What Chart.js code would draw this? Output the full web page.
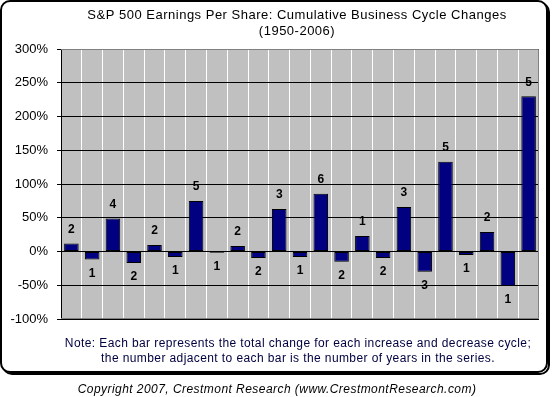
<!DOCTYPE html>
<html>
<head>
<meta charset="utf-8">
<script src="https://cdn.jsdelivr.net/npm/chart.js@4"></script>
<style>
  html, body { margin: 0; padding: 0; background: #fff; }
  #wrap { position: relative; width: 554px; height: 397px; }
</style>
</head>
<body>
<div id="wrap"><canvas id="epsChart" width="554" height="397"></canvas></div>
<script>
  // cycle-by-cycle cumulative EPS change, %
  const cycles = ['1', '2', '3', '4', '5', '6', '7', '8', '9', '10', '11', '12',
    '13', '14', '15', '16', '17', '18', '19', '20', '21', '22', '23'];
  const changes = [12, -12, 49, -17, 9.5, -8, 75, -2, 8, -9.5, 63, -8,
    85.5, -15, 23, -9.5, 66, -30, 133, -5, 29, -51, 230];
  // number of years in each cycle
  const years = [2, 1, 4, 2, 2, 1, 5, 1, 2, 2, 3, 1, 6, 2, 1, 2, 3, 3, 5, 1, 2, 1, 5];
  const yTicks = [-100, -50, 0, 50, 100, 150, 200, 250, 300];

  const titleLines = ['S&P 500 Earnings Per Share: Cumulative Business Cycle Changes', '(1950-2006)'];
  const noteLines = ['Note: Each bar represents the total change for each increase and decrease cycle;',
    'the number adjacent to each bar is the number of years in the series.'];
  const copyright = 'Copyright 2007, Crestmont Research (www.CrestmontResearch.com)';

  function roundRect(ctx, x, y, w, h, r) {
    ctx.beginPath();
    ctx.moveTo(x + r, y);
    ctx.arcTo(x + w, y, x + w, y + h, r);
    ctx.arcTo(x + w, y + h, x, y + h, r);
    ctx.arcTo(x, y + h, x, y, r);
    ctx.arcTo(x, y, x + w, y, r);
    ctx.closePath();
  }

  const frame = {
    id: 'frame',
    beforeDraw(chart) {
      const ctx = chart.ctx, a = chart.chartArea;
      ctx.save();
      ctx.fillStyle = '#fff';
      ctx.fillRect(0, 0, chart.width, chart.height);
      // shadow + border
      ctx.lineWidth = 2;
      ctx.strokeStyle = '#000';
      roundRect(ctx, 3, 3, 546, 371, 9);
      ctx.stroke();
      roundRect(ctx, 1, 1, 546, 371, 9);
      ctx.fillStyle = '#fff';
      ctx.fill();
      ctx.stroke();
      // plot area
      ctx.fillStyle = '#c0c0c0';
      ctx.fillRect(a.left, a.top, a.right - a.left, a.bottom - a.top);
      // texts
      ctx.fillStyle = '#000';
      ctx.textAlign = 'center';
      ctx.textBaseline = 'middle';
      ctx.font = '13px Arial, "Liberation Sans", sans-serif';
      ctx.letterSpacing = '0.5px';
      ctx.fillText(titleLines[0], 297, 15);
      ctx.fillText(titleLines[1], 297, 31);
      ctx.fillStyle = '#000040';
      ctx.font = '12px Arial, "Liberation Sans", sans-serif';
      ctx.letterSpacing = '0.4px';
      ctx.fillText(noteLines[0], 298, 344);
      ctx.fillText(noteLines[1], 298, 359);
      ctx.fillStyle = '#000';
      ctx.font = 'italic 12px Arial, "Liberation Sans", sans-serif';
      ctx.letterSpacing = '0.45px';
      ctx.fillText(copyright, 277, 390);
      ctx.letterSpacing = '0px';
      ctx.restore();
    },
    afterDraw(chart) {
      const ctx = chart.ctx, a = chart.chartArea;
      ctx.save();
      ctx.strokeStyle = '#808080';
      ctx.lineWidth = 1;
      ctx.beginPath();
      ctx.moveTo(a.left, a.top + 0.5);
      ctx.lineTo(a.right - 0.5, a.top + 0.5);
      ctx.lineTo(a.right - 0.5, a.bottom - 0.5);
      ctx.lineTo(a.left, a.bottom - 0.5);
      ctx.stroke();
      ctx.restore();
    }
  };

  const yearLabels = {
    id: 'yearLabels',
    afterDatasetsDraw(chart) {
      const ctx = chart.ctx;
      const meta = chart.getDatasetMeta(0);
      ctx.save();
      ctx.fillStyle = '#000';
      ctx.font = 'bold 12px Arial, "Liberation Sans", sans-serif';
      ctx.textAlign = 'center';
      ctx.textBaseline = 'middle';
      meta.data.forEach((bar, i) => {
        const off = changes[i] >= 0 ? -14 : 14;
        ctx.fillText(String(years[i]), bar.x, bar.y + off);
      });
      ctx.restore();
    }
  };

  new Chart(document.getElementById('epsChart'), {
    type: 'bar',
    data: {
      labels: cycles,
      datasets: [{
        data: changes,
        backgroundColor: '#000080',
        borderColor: '#000000',
        borderWidth: 1,
        borderSkipped: false,
        categoryPercentage: 1,
        barPercentage: 0.7
      }]
    },
    options: {
      responsive: false,
      animation: false,
      layout: { padding: { top: 49, bottom: 78, left: 0, right: 15 } },
      plugins: { legend: { display: false }, title: { display: false }, tooltip: { enabled: false } },
      scales: {
        x: {
          offset: true,
          ticks: { display: false },
          grid: { color: '#ffffff', lineWidth: 1, drawTicks: false, offset: true },
          border: { display: false },
          afterFit(scale) { scale.height = 0; }
        },
        y: {
          min: yTicks[0],
          max: yTicks[yTicks.length - 1],
          afterBuildTicks(scale) { scale.ticks = yTicks.map((v) => ({ value: v })); },
          ticks: {
            color: '#000',
            padding: 9,
            font: { family: 'Arial, "Liberation Sans", sans-serif', size: 13 },
            callback: (v) => v + '%'
          },
          grid: { color: '#000000', lineWidth: 1, tickLength: 4, drawTicks: true },
          border: { display: true, color: '#000000', width: 1 },
          afterFit(scale) { scale.width = 61; }
        }
      }
    },
    plugins: [frame, yearLabels]
  });
</script>
</body>
</html>
